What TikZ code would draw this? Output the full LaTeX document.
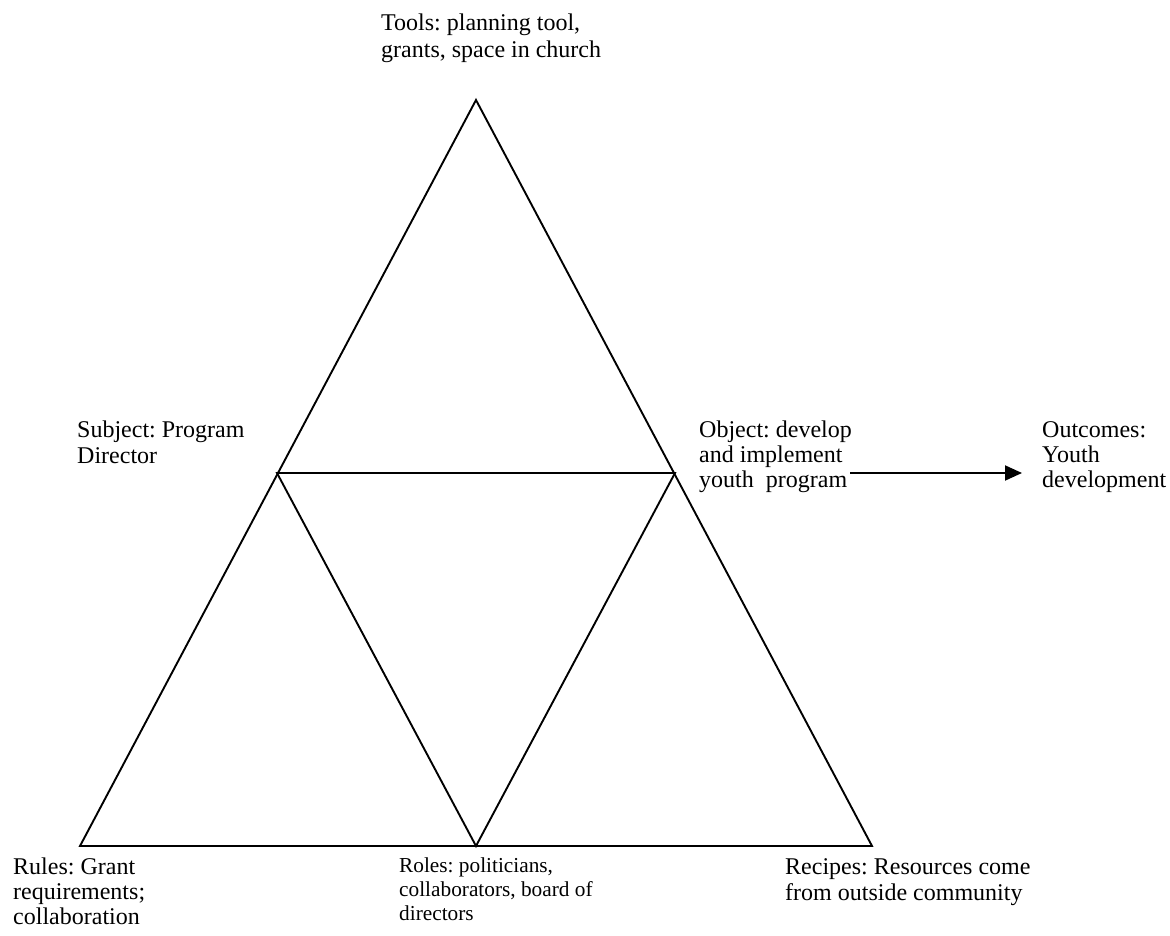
\documentclass[tikz,border=0pt]{standalone}
\usepackage{fontspec}
\setmainfont{Liberation Serif}
\usetikzlibrary{arrows.meta}
\frenchspacing
% stacked lines whose reference point is the first line's baseline
\newcommand{\stacklines}[1]{\begin{tabular}[t]{@{}l@{}}#1\end{tabular}}
\tikzset{
  edge/.style={line width=1.9pt, line join=miter},
  lbl/.style={anchor=base west, inner sep=0pt,
              font=\fontsize{24}{26.5}\selectfont},
  tight/.style={font=\fontsize{24}{25.2}\selectfont},
  small/.style={font=\fontsize{21.3}{24}\selectfont},
  flow/.style={line width=1.9pt, -{Triangle[length=17pt,width=15pt]}}
}
\begin{document}
\begin{tikzpicture}[x=1pt,y=1pt]
  \useasboundingbox (0,0) rectangle (1170,-936);
  % corners of the activity triangle
  \coordinate (apex) at (476,-100);
  \coordinate (bl) at (80,-846);
  \coordinate (br) at (872,-846);
  \coordinate (bm) at (476,-846);
  \coordinate (ml) at (277,-473);
  \coordinate (mr) at (675,-473);
  % outer triangle and inner subdivisions
  \draw[edge] (apex) -- (bl) -- (br) -- cycle;
  \draw[edge] (ml) -- (mr) -- (bm) -- cycle;
  % labels
  \node[lbl] (tools) at (381,-31) {\stacklines{Tools: planning tool,\\grants, space in church}};
  \node[lbl] (subj) at (77,-437) {\stacklines{Subject: Program\\Director}};
  \node[lbl,tight] (obj) at (699,-437) {\stacklines{Object: develop\\and implement\\youth\ \ program}};
  \node[lbl,tight] (out) at (1042,-437) {\stacklines{Outcomes:\\Youth\\development}};
  \node[lbl,tight] (rules) at (13,-874) {\stacklines{Rules: Grant\\requirements;\\collaboration}};
  \node[lbl,small] (roles) at (399,-872) {\stacklines{Roles: politicians,\\collaborators, board of\\directors}};
  \node[lbl] (recp) at (785,-874) {\stacklines{Recipes: Resources come\\from outside community}};
  % transformation arrow from object to outcomes
  \coordinate (arrS) at (850,-473);
  \coordinate (arrE) at (1022,-473);
  \draw[flow] (arrS) -- (arrE);
\end{tikzpicture}
\end{document}
